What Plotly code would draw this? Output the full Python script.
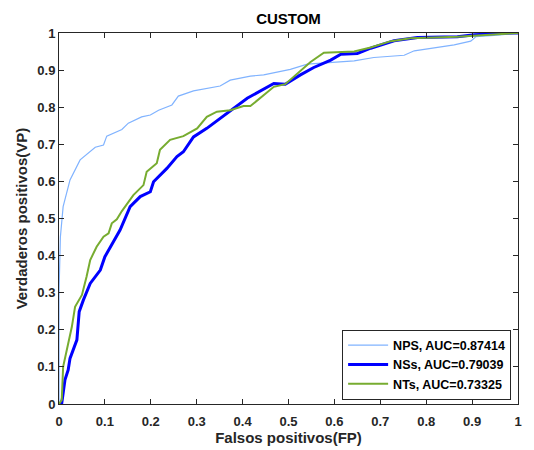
import plotly.graph_objects as go

# NPS curve (light blue)
nps_fp = [0.0, 0.0, 0.003, 0.009, 0.024, 0.046, 0.079, 0.097, 0.104, 0.137, 0.151, 0.18, 0.199, 0.217,
          0.246, 0.26, 0.293, 0.351, 0.373, 0.417, 0.446, 0.504, 0.541, 0.592, 0.643, 0.686, 0.752,
          0.774, 0.861, 0.897, 0.908, 0.956, 1.0]
nps_tp = [0.0, 0.3, 0.45, 0.532, 0.604, 0.658, 0.692, 0.698, 0.722, 0.74, 0.757, 0.774, 0.779, 0.792,
          0.806, 0.83, 0.844, 0.857, 0.873, 0.884, 0.887, 0.902, 0.916, 0.921, 0.925, 0.934, 0.94,
          0.952, 0.968, 0.978, 0.99, 0.994, 1.0]

# NSs curve (blue)
nss_fp = [0.0, 0.006, 0.013, 0.02, 0.024, 0.039, 0.044, 0.053, 0.068, 0.09, 0.1, 0.133, 0.155, 0.177,
          0.199, 0.206, 0.235, 0.257, 0.271, 0.293, 0.322, 0.351, 0.373, 0.41, 0.468, 0.493, 0.526,
          0.555, 0.592, 0.614, 0.65, 0.679, 0.73, 0.781, 0.868, 0.905, 0.97, 0.99, 1.0]
nss_tp = [0.0, 0.002, 0.065, 0.092, 0.123, 0.173, 0.249, 0.28, 0.325, 0.361, 0.397, 0.469, 0.532, 0.559,
          0.572, 0.599, 0.635, 0.667, 0.68, 0.72, 0.743, 0.77, 0.788, 0.824, 0.864, 0.862, 0.887,
          0.907, 0.927, 0.943, 0.945, 0.959, 0.979, 0.988, 0.99, 0.995, 1.0, 1.0, 1.0]

# NTs curve (green)
nts_fp = [0.0, 0.006, 0.009, 0.017, 0.028, 0.035, 0.05, 0.06, 0.068, 0.082, 0.097, 0.108, 0.115, 0.126,
          0.137, 0.162, 0.184, 0.191, 0.213, 0.22, 0.242, 0.271, 0.301, 0.322, 0.344, 0.373, 0.402,
          0.417, 0.446, 0.468, 0.493, 0.519, 0.548, 0.577, 0.643, 0.679, 0.723, 0.766, 0.868, 1.0]
nts_tp = [0.0, 0.011, 0.1, 0.146, 0.208, 0.262, 0.294, 0.343, 0.388, 0.424, 0.451, 0.46, 0.487, 0.498,
          0.52, 0.563, 0.59, 0.626, 0.649, 0.685, 0.712, 0.722, 0.743, 0.774, 0.788, 0.792, 0.803,
          0.803, 0.833, 0.855, 0.862, 0.891, 0.922, 0.947, 0.95, 0.961, 0.978, 0.986, 0.99, 1.0]

names = ["NPS, AUC=0.87414", "NSs, AUC=0.79039", "NTs, AUC=0.73325"]
colors = ["#80B3FF", "#0000FF", "#77AC30"]
widths = [1.2, 3, 2]

x_ticks = [0, 0.1, 0.2, 0.3, 0.4, 0.5, 0.6, 0.7, 0.8, 0.9, 1]
x_tick_labels = ["0", "0.1", "0.2", "0.3", "0.4", "0.5", "0.6", "0.7", "0.8", "0.9", "1"]

FONT = "Liberation Sans, Arial, sans-serif"

fig = go.Figure()
for fp, tp, n, c, w in zip([nps_fp, nss_fp, nts_fp], [nps_tp, nss_tp, nts_tp], names, colors, widths):
    fig.add_trace(go.Scatter(x=fp, y=tp, mode="lines", name=n, line=dict(color=c, width=w)))

def axis_style(title_text, standoff, label_gap):
    return dict(
        range=[0, 1], tickvals=x_ticks, ticktext=x_tick_labels, automargin=False,
        showgrid=False, zeroline=False, showline=True, linecolor="#262626", linewidth=1,
        mirror="ticks", ticks="inside", ticklen=5, tickcolor="#262626",
        ticklabelstandoff=label_gap,
        tickfont=dict(family=FONT, size=13, color="#262626", weight="bold"),
        title=dict(text=title_text, standoff=standoff,
                   font=dict(family=FONT, size=15, color="#262626", weight="bold")),
    )

fig.update_layout(
    width=534, height=450,
    margin=dict(l=59, r=16, t=33, b=46),
    paper_bgcolor="white", plot_bgcolor="white",
    title=dict(text="CUSTOM", x=288.5 / 534, xanchor="center", y=1 - 19 / 450, yanchor="middle",
               font=dict(family=FONT, size=15, color="black", weight="bold")),
    xaxis=axis_style("Falsos positivos(FP)", 2, 5),
    yaxis=axis_style("Verdaderos positivos(VP)", 6, 0),
    legend=dict(x=0.985, y=0.012, xanchor="right", yanchor="bottom",
                bgcolor="white", bordercolor="#262626", borderwidth=1,
                font=dict(family=FONT, size=12.5, color="black", weight="bold"),
                tracegroupgap=0, itemwidth=40),
    showlegend=True,
)

fig.write_html("out.html")
